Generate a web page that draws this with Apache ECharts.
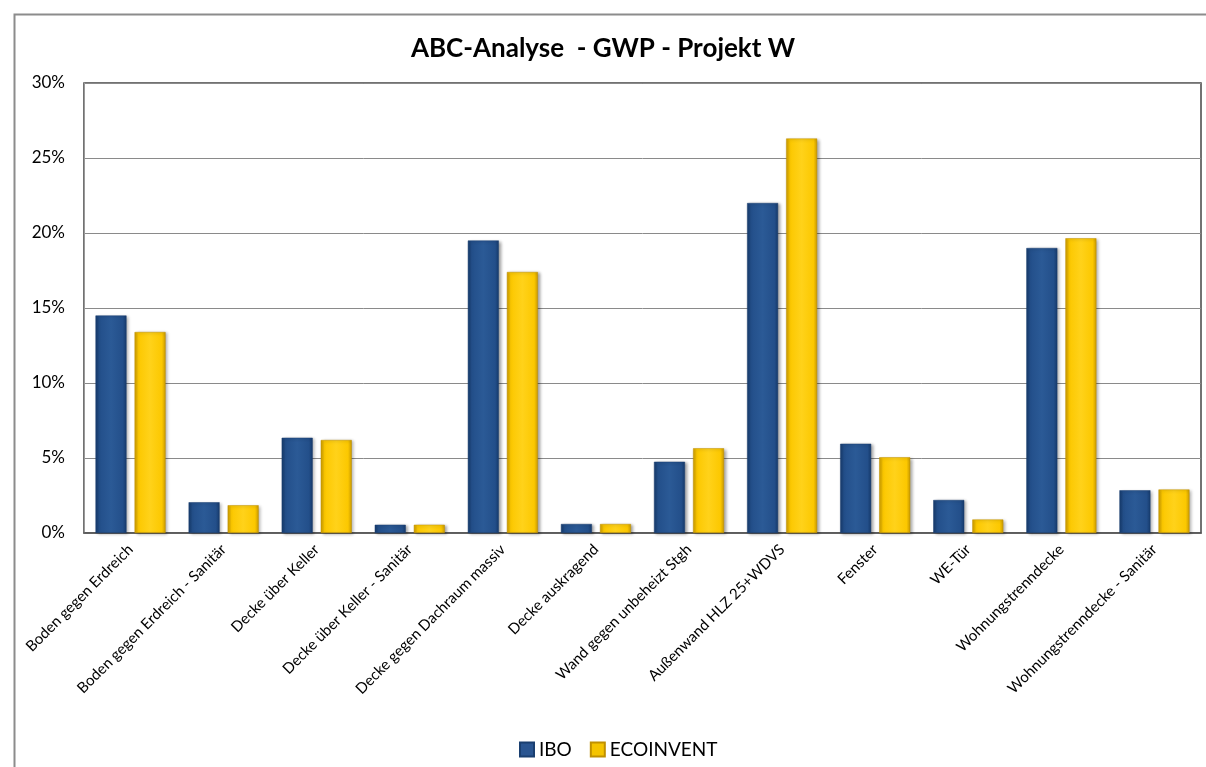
<!DOCTYPE html>
<html><head><meta charset="utf-8">
<script src="https://cdn.jsdelivr.net/npm/echarts@6/dist/echarts.min.js"></script>
<style>html,body{margin:0;padding:0;background:#fff}#c{width:1206px;height:767px}</style>
</head><body><div id="c"></div>
<script>
const categories = ["Boden gegen Erdreich","Boden gegen Erdreich - Sanitär","Decke über Keller","Decke über Keller - Sanitär","Decke gegen Dachraum massiv","Decke auskragend","Wand gegen unbeheizt Stgh","Außenwand HLZ 25+WDVS","Fenster","WE-Tür","Wohnungstrenndecke","Wohnungstrenndecke - Sanitär"];
const ibo = [14.5, 2.05, 6.35, 0.55, 19.5, 0.6, 4.75, 22.0, 5.95, 2.2, 19.0, 2.85];
const ecoinvent = [13.4, 1.85, 6.2, 0.55, 17.4, 0.6, 5.65, 26.3, 5.05, 0.9, 19.65, 2.9];
const yTicks = [0, 5, 10, 15, 20, 25, 30];

const FONT = "Lato, 'Open Sans', sans-serif";
function grad(dark, base, light) {
  return new echarts.graphic.LinearGradient(0, 0, 1, 0, [
    {offset: 0, color: dark}, {offset: 0.12, color: base},
    {offset: 0.5, color: light}, {offset: 0.88, color: base}, {offset: 1, color: dark}
  ]);
}
const chart = echarts.init(document.getElementById('c'), null, {renderer: 'canvas'});
chart.setOption({
  animation: false,
  backgroundColor: '#fff',
  title: {
    text: 'ABC-Analyse  - GWP - Projekt W', left: 'center', top: 31,
    textStyle: {fontFamily: FONT, fontSize: 26, fontWeight: 'bold', color: '#000'}
  },
  graphic: [{
    type: 'rect', left: 12, top: 12, z: -1,
    shape: {width: 1210, height: 770},
    style: {fill: 'none', stroke: '#8c8c8c', lineWidth: 2}
  }],
  legend: {
    top: 735, left: 514, itemWidth: 14, itemHeight: 14, itemGap: 18,
    textStyle: {fontFamily: FONT, fontSize: 19, color: '#000'},
    data: [
      {name: 'IBO', icon: 'rect', itemStyle: {color: '#2a5591'}},
      {name: 'ECOINVENT', icon: 'rect', itemStyle: {color: '#f5c400'}}
    ]
  },
  grid: {
    left: 84, right: 5, top: 83, bottom: 234, containLabel: false,
    show: true, borderColor: '#444', borderWidth: 1.5
  },
  xAxis: {
    type: 'category', data: categories,
    axisTick: {show: false},
    axisLine: {lineStyle: {color: '#555', width: 1.5}},
    axisLabel: {
      rotate: 45, interval: 0, margin: 14, color: '#000',
      fontFamily: FONT, fontSize: 15
    }
  },
  yAxis: {
    type: 'value', min: 0, max: 30, interval: 5,
    axisLine: {show: true, lineStyle: {color: '#999'}},
    axisTick: {show: false},
    splitLine: {lineStyle: {color: '#8a8a8a', width: 1}},
    axisLabel: {
      margin: 19, color: '#000', fontFamily: FONT, fontSize: 17,
      formatter: v => yTicks.includes(v) ? v + '%' : ''
    }
  },
  series: [
    {
      name: 'IBO', type: 'bar', data: ibo, barWidth: 31, barGap: '26%',
      itemStyle: {
        color: grad('#163a6b', '#234f8a', '#2b5a96'),
        borderColor: '#1a3f70', borderWidth: 0.5,
        shadowColor: 'rgba(0,0,0,0.35)', shadowBlur: 3, shadowOffsetX: 2, shadowOffsetY: 1
      }
    },
    {
      name: 'ECOINVENT', type: 'bar', data: ecoinvent, barWidth: 31,
      itemStyle: {
        color: grad('#c99a00', '#fcc800', '#ffd21a'),
        borderColor: '#c09000', borderWidth: 0.5,
        shadowColor: 'rgba(0,0,0,0.35)', shadowBlur: 3, shadowOffsetX: 2, shadowOffsetY: 1
      }
    }
  ]
});
</script></body></html>
